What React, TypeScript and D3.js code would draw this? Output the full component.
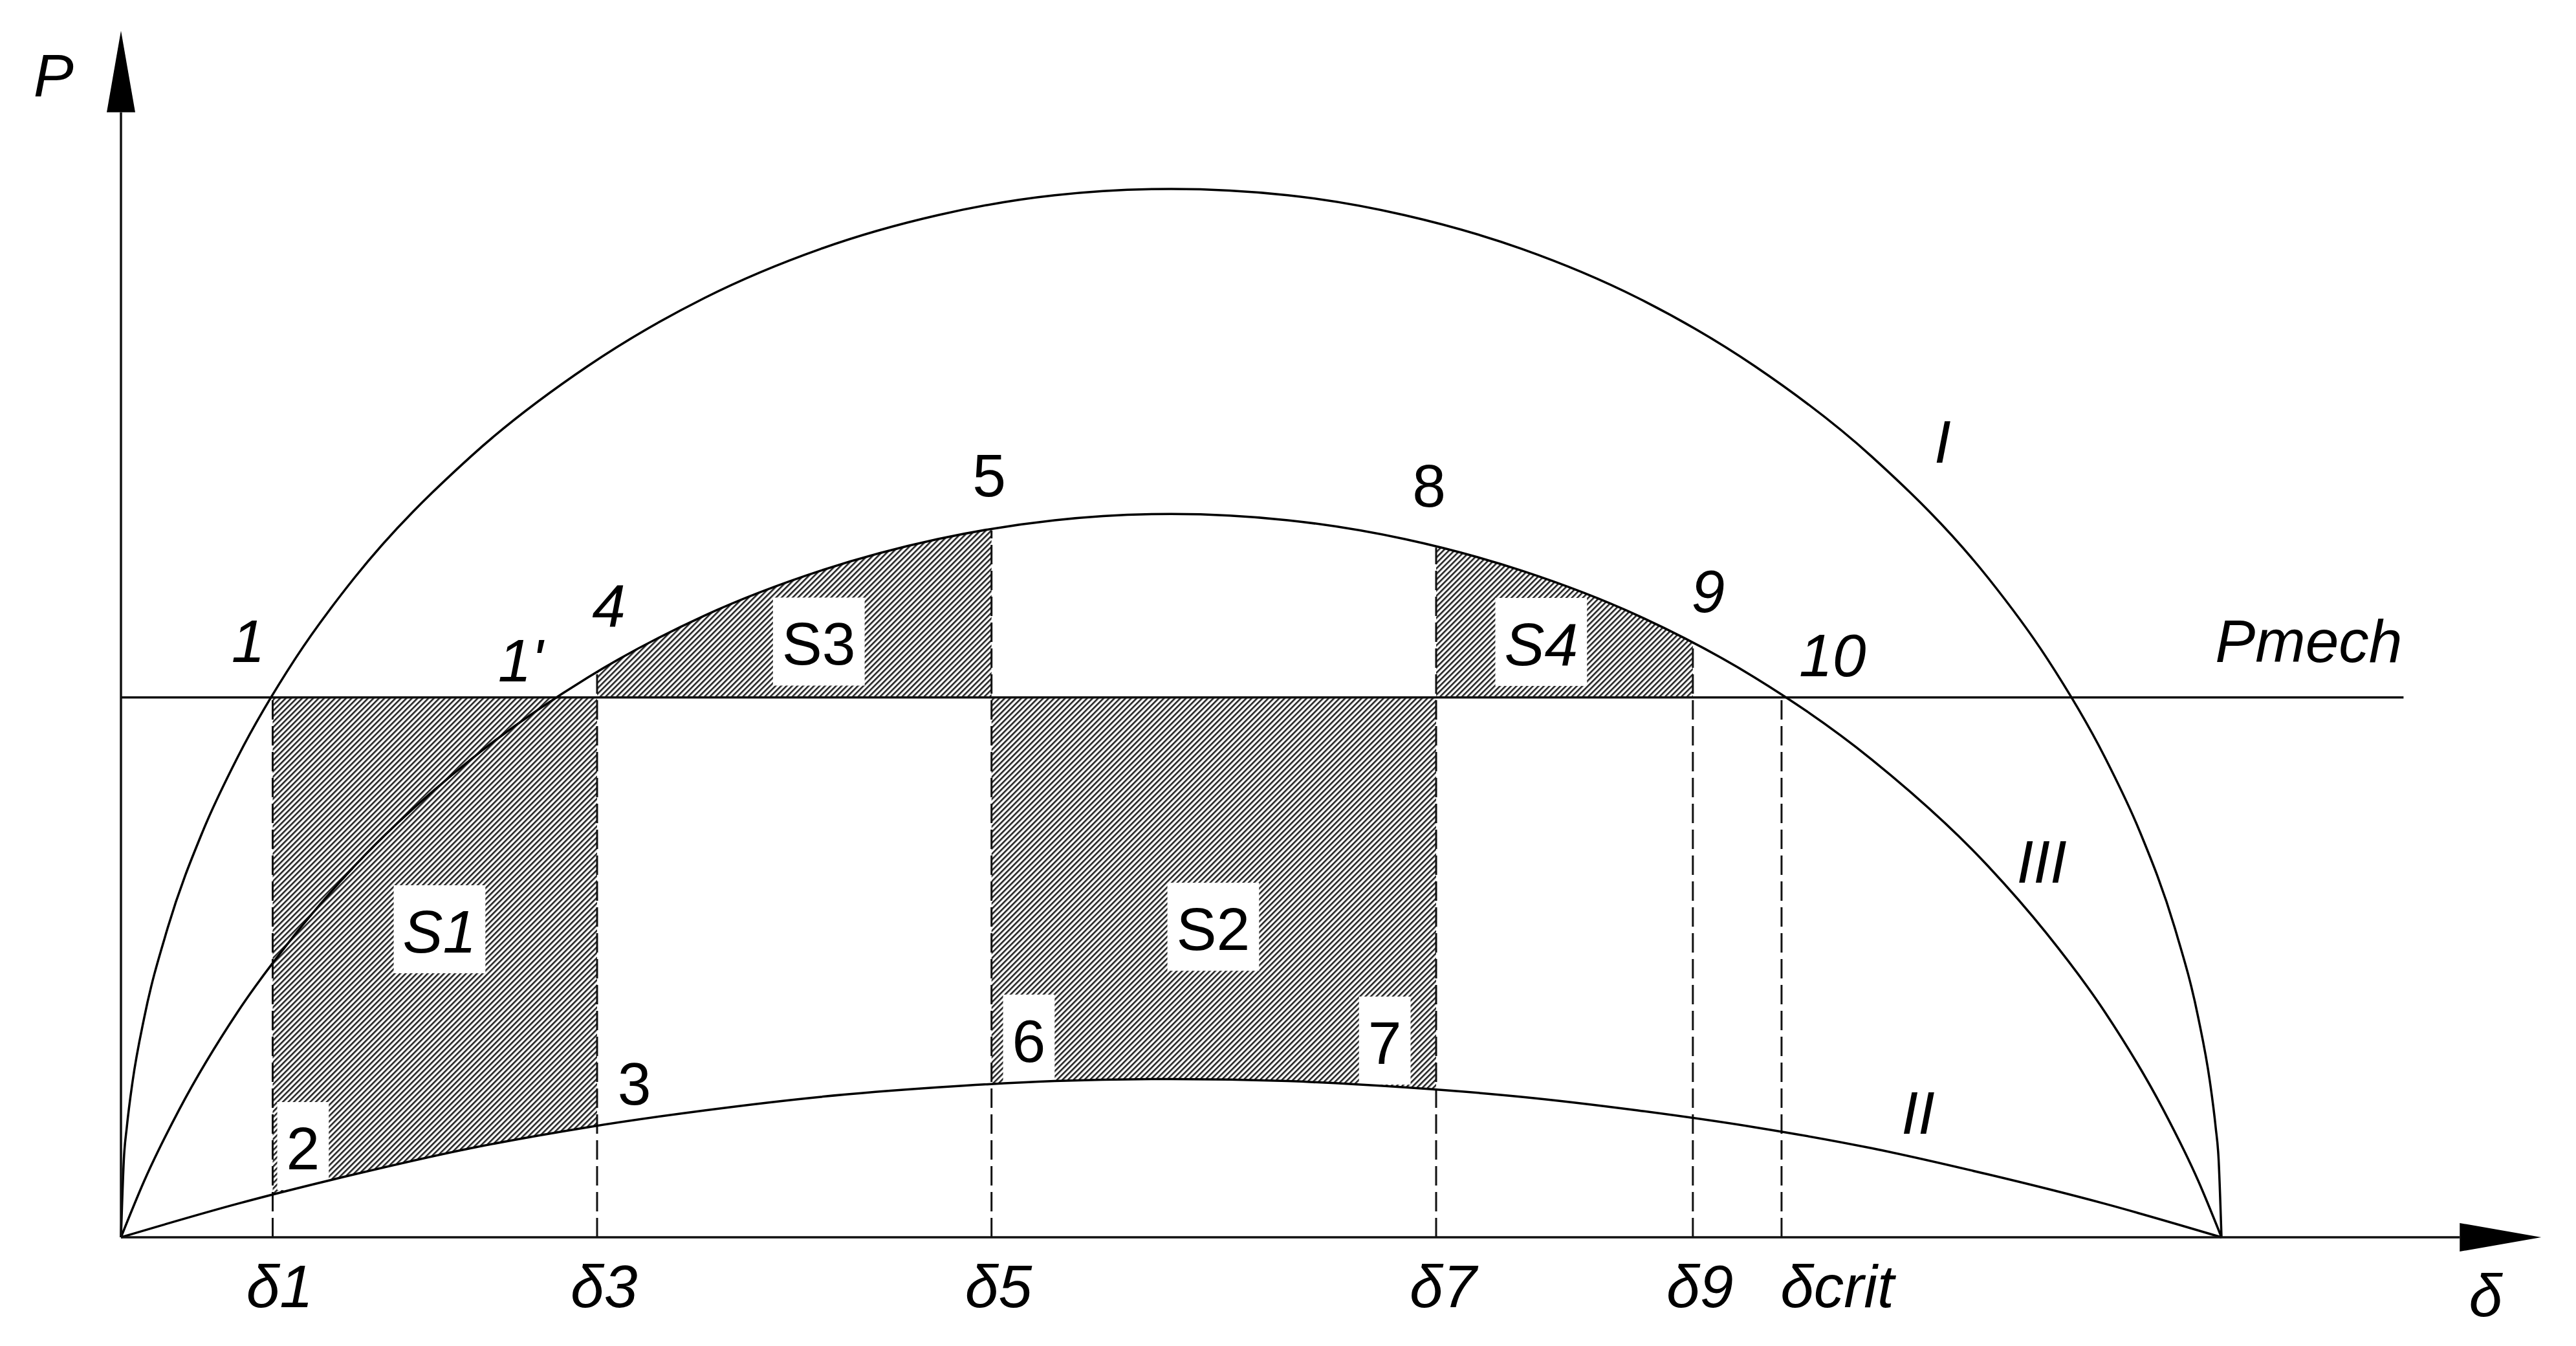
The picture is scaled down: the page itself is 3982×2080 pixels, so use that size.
import { useEffect, useRef } from "react";
import * as d3 from "d3";

// load angle δ (degrees) and relative power P
const deltaI = [0, 0.25, 0.5, 1, 2, 4, 7, 10, 15, 20, 30, 40, 50, 60, 70, 80, 90, 100, 110, 120, 130, 140, 150, 160, 165, 170, 173, 176, 178, 179, 179.5, 179.75, 180];
const powerI = [0, 0.075, 0.105, 0.149, 0.21, 0.295, 0.387, 0.458, 0.553, 0.629, 0.745, 0.831, 0.896, 0.943, 0.975, 0.994, 1.0, 0.994, 0.975, 0.943, 0.896, 0.831, 0.745, 0.629, 0.553, 0.458, 0.387, 0.295, 0.21, 0.149, 0.105, 0.075, 0];

const deltaII = [0, 10, 20, 30, 40, 50, 60, 70, 80, 90, 100, 110, 120, 130, 140, 150, 160, 170, 180];
const powerII = [0, 0.032, 0.06, 0.085, 0.105, 0.121, 0.134, 0.143, 0.149, 0.151, 0.149, 0.143, 0.134, 0.121, 0.105, 0.085, 0.06, 0.032, 0];

const deltaIII = [0, 2, 5, 10, 15, 20, 30, 40, 50, 60, 70, 80, 90, 100, 110, 120, 130, 140, 150, 160, 165, 170, 175, 178, 180];
const powerIII = [0, 0.054, 0.122, 0.215, 0.29, 0.354, 0.456, 0.534, 0.593, 0.636, 0.666, 0.684, 0.69, 0.684, 0.666, 0.636, 0.593, 0.534, 0.456, 0.354, 0.29, 0.215, 0.122, 0.054, 0];

const pMech = 0.515;

const markNames = ["δ1", "δ3", "δ5", "δ7", "δ9", "δcrit"];
const markDeltas = [13.0, 40.8, 74.6, 112.7, 134.7, 142.3];
const markTop = ["mech", "III", "III", "III", "III", "mech"];

// hatched areas: between two marks, below or above Pmech
const regionNames = ["S1", "S3", "S2", "S4"];
const regionFrom = [0, 1, 2, 3];
const regionTo = [1, 2, 3, 4];
const regionKind = ["below", "above", "below", "above"];

export default function App() {
  const ref = useRef<SVGSVGElement>(null);

  useEffect(() => {
    const width = 3982;
    const height = 2080;
    const svg = d3.select(ref.current);
    svg.selectAll("*").remove();
    svg.attr("width", width).attr("height", height);

    svg.append("rect").attr("width", width).attr("height", height).attr("fill", "#fff");

    const x = d3.scaleLinear().domain([0, 180]).range([187, 3434]);
    const y = d3.scaleLinear().domain([0, 1]).range([1912, 292]);

    const font = "'Liberation Sans', Arial, sans-serif";
    const fontSize = 93;

    const defs = svg.append("defs");
    const pat = defs.append("pattern")
      .attr("id", "hatch")
      .attr("patternUnits", "userSpaceOnUse")
      .attr("width", 6)
      .attr("height", 6)
      .attr("patternTransform", "rotate(-45)");
    pat.append("rect").attr("width", 6).attr("height", 6).attr("fill", "#fff");
    pat.append("rect").attr("width", 6).attr("height", 2.6).attr("fill", "#222");

    const ptsI = deltaI.map((d, i) => [d, powerI[i]] as [number, number]);
    const ptsII = deltaII.map((d, i) => [d, powerII[i]] as [number, number]);
    const ptsIII = deltaIII.map((d, i) => [d, powerIII[i]] as [number, number]);
    const curveIII = d3.scaleLinear().domain(deltaIII).range(powerIII);

    const line = d3.line<[number, number]>()
      .x(d => x(d[0]))
      .y(d => y(d[1]))
      .curve(d3.curveMonotoneX);

    const belowMech = d3.area<[number, number]>()
      .x(d => x(d[0]))
      .y0(d => y(d[1]))
      .y1(y(pMech))
      .curve(d3.curveMonotoneX);

    const aboveMech = d3.area<[number, number]>()
      .x(d => x(d[0]))
      .y0(y(pMech))
      .y1(d => y(d[1]))
      .curve(d3.curveMonotoneX);

    // hatched areas S1..S4
    regionNames.forEach((name, i) => {
      const x0 = x(markDeltas[regionFrom[i]]);
      const x1 = x(markDeltas[regionTo[i]]);
      defs.append("clipPath")
        .attr("id", "clip-" + name)
        .append("rect")
        .attr("x", x0)
        .attr("y", 0)
        .attr("width", x1 - x0)
        .attr("height", height);
      svg.append("path")
        .attr("d", regionKind[i] === "below" ? belowMech(ptsII) : aboveMech(ptsIII))
        .attr("fill", "url(#hatch)")
        .attr("clip-path", `url(#clip-${name})`);
    });

    const boxLayer = svg.append("g");

    // dashed verticals
    markDeltas.forEach((d, i) => {
      const top = markTop[i] === "mech" ? pMech : curveIII(d);
      svg.append("line")
        .attr("x1", x(d))
        .attr("x2", x(d))
        .attr("y1", y(0))
        .attr("y2", y(top))
        .attr("stroke", "#111")
        .attr("stroke-width", 3)
        .attr("stroke-dasharray", "30,10");
    });

    // Pmech line
    svg.append("line")
      .attr("x1", x(0))
      .attr("x2", x(195.6))
      .attr("y1", y(pMech))
      .attr("y2", y(pMech))
      .attr("stroke", "#111")
      .attr("stroke-width", 3.5);

    [ptsI, ptsII, ptsIII].forEach(pts => {
      svg.append("path")
        .attr("d", line(pts))
        .attr("fill", "none")
        .attr("stroke", "#000")
        .attr("stroke-width", 3.5);
    });

    // axes with arrow heads
    const xEnd = 207.4;
    const yEnd = 1.151;
    const arrowLen = 126;
    const arrowHalf = 22;
    svg.append("line")
      .attr("x1", x(0)).attr("y1", y(0))
      .attr("x2", x(0)).attr("y2", y(yEnd) + arrowLen)
      .attr("stroke", "#111").attr("stroke-width", 3.5);
    svg.append("polygon")
      .attr("points", [
        [x(0), y(yEnd)],
        [x(0) - arrowHalf, y(yEnd) + arrowLen],
        [x(0) + arrowHalf, y(yEnd) + arrowLen]
      ].map(p => p.join(",")).join(" "))
      .attr("fill", "#000");
    svg.append("line")
      .attr("x1", x(0)).attr("y1", y(0))
      .attr("x2", x(xEnd) - arrowLen).attr("y2", y(0))
      .attr("stroke", "#111").attr("stroke-width", 3.5);
    svg.append("polygon")
      .attr("points", [
        [x(xEnd), y(0)],
        [x(xEnd) - arrowLen, y(0) - arrowHalf],
        [x(xEnd) - arrowLen, y(0) + arrowHalf]
      ].map(p => p.join(",")).join(" "))
      .attr("fill", "#000");

    const annotations = [
      { text: "P", d: -7.5, p: 1.088, anchor: "start", italic: true, box: false },
      { text: "δ", d: 201.2, p: -0.075, anchor: "start", italic: true, box: false },
      { text: "1", d: 10.9, p: 0.549, anchor: "middle", italic: true, box: false },
      { text: "1'", d: 32.3, p: 0.53, anchor: "start", italic: true, box: false },
      { text: "4", d: 41.8, p: 0.583, anchor: "middle", italic: true, box: false },
      { text: "5", d: 74.4, p: 0.707, anchor: "middle", italic: false, box: false },
      { text: "8", d: 112.1, p: 0.697, anchor: "middle", italic: false, box: false },
      { text: "9", d: 136.0, p: 0.596, anchor: "middle", italic: true, box: false },
      { text: "10", d: 143.8, p: 0.535, anchor: "start", italic: true, box: false },
      { text: "Pmech", d: 195.5, p: 0.549, anchor: "end", italic: true, box: false },
      { text: "I", d: 156.1, p: 0.739, anchor: "middle", italic: true, box: false },
      { text: "III", d: 164.6, p: 0.338, anchor: "middle", italic: true, box: false },
      { text: "II", d: 154.0, p: 0.099, anchor: "middle", italic: true, box: false },
      { text: "3", d: 44.0, p: 0.1265, anchor: "middle", italic: false, box: false },
      { text: "S1", d: 27.3, p: 0.2716, anchor: "middle", italic: true, box: true },
      { text: "S2", d: 93.6, p: 0.274, anchor: "middle", italic: false, box: true },
      { text: "S3", d: 59.8, p: 0.546, anchor: "middle", italic: false, box: true },
      { text: "S4", d: 121.7, p: 0.5457, anchor: "middle", italic: true, box: true },
      { text: "2", d: 15.6, p: 0.0648, anchor: "middle", italic: false, box: true },
      { text: "6", d: 77.8, p: 0.1673, anchor: "middle", italic: false, box: true },
      { text: "7", d: 108.3, p: 0.1654, anchor: "middle", italic: false, box: true }
    ];

    const textLayer = svg.append("g")
      .attr("font-family", font)
      .attr("font-size", fontSize)
      .attr("fill", "#000");

    annotations.forEach(a => {
      const t = textLayer.append("text")
        .attr("x", x(a.d))
        .attr("y", y(a.p))
        .attr("text-anchor", a.anchor)
        .attr("font-style", a.italic ? "italic" : "normal")
        .text(a.text);
      if (a.box) {
        const bb = (t.node() as SVGTextElement).getBBox();
        const base = y(a.p);
        boxLayer.append("rect")
          .attr("x", bb.x - 14)
          .attr("y", base - 104)
          .attr("width", bb.width + 28)
          .attr("height", 136)
          .attr("fill", "#fff");
      }
    });

    // tick labels under the axis
    markDeltas.forEach((d, i) => {
      const last = i === markDeltas.length - 1;
      textLayer.append("text")
        .attr("x", x(last ? d - 0.1 : d + 0.6))
        .attr("y", y(-0.0667))
        .attr("text-anchor", last ? "start" : "middle")
        .attr("font-style", "italic")
        .text(markNames[i]);
    });
  }, []);

  return <svg ref={ref} style={{ position: "absolute", left: 0, top: 0, display: "block" }}></svg>;
}
